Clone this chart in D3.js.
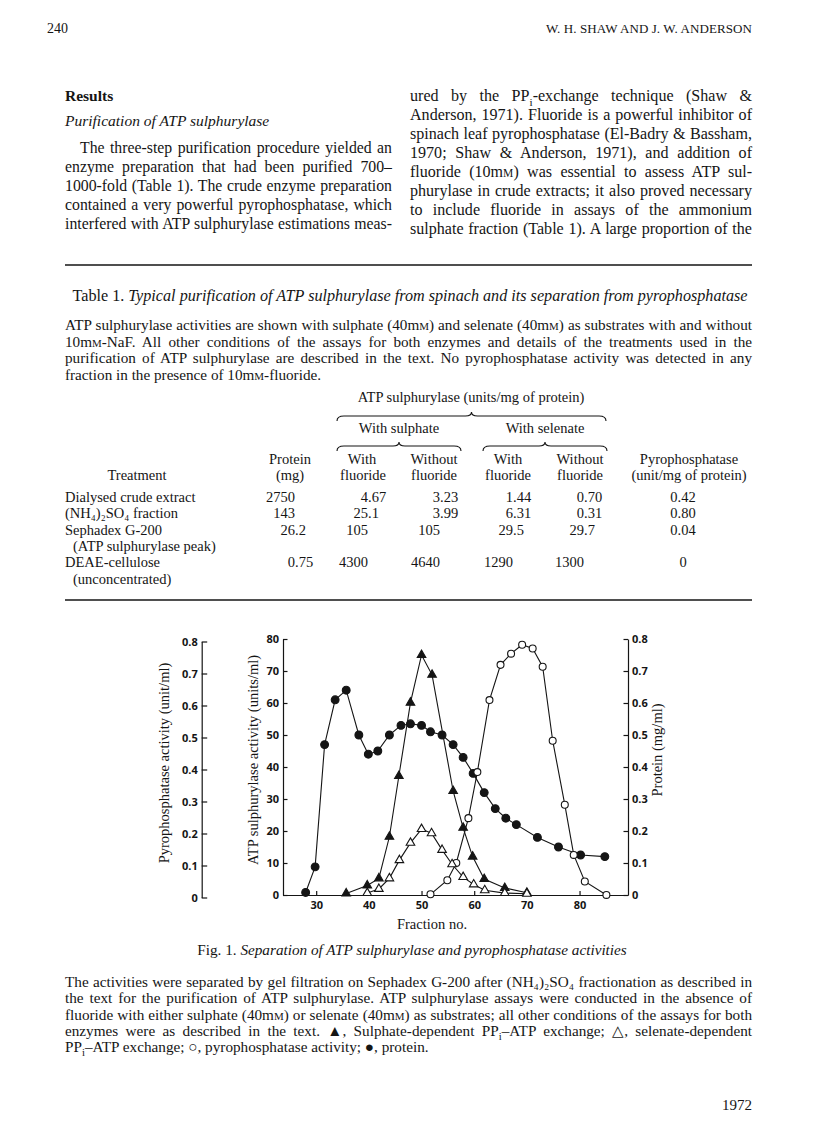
<!DOCTYPE html>
<html>
<head>
<meta charset="utf-8">
<script src="https://cdn.jsdelivr.net/npm/d3@7"></script>
<style>
  body { margin: 0; background: #fff; }
  svg text { font-family: "Liberation Serif", "Times New Roman", serif; fill: #151515; }
  .axis text { font-family: "Open Sans", "DejaVu Sans", sans-serif; font-weight: 700; font-size: 11px; fill: #151515; }
  .axis path, .axis line { stroke: #151515; stroke-width: 1.2; }
</style>
</head>
<body>
<div id="page"></div>
<script>
// ---- chart data ----
var fractionTicks = [30, 40, 50, 60, 70, 80];
var atpTicks = [0, 10, 20, 30, 40, 50, 60, 70, 80];
var mlTicks = [0, 0.1, 0.2, 0.3, 0.4, 0.5, 0.6, 0.7, 0.8];

// protein (mg/ml), filled circles
var proteinFraction = [28, 29.8, 31.6, 33.6, 35.7, 38.1, 39.9, 41.7, 43.9, 46.1, 47.9, 50, 51.7, 53.9, 56, 57.9, 59.8, 61.9, 64, 66, 68, 72, 76, 80.2, 84.8];
var proteinValue = [0.008, 0.088, 0.47, 0.61, 0.64, 0.50, 0.44, 0.45, 0.50, 0.53, 0.535, 0.53, 0.51, 0.50, 0.47, 0.43, 0.38, 0.32, 0.27, 0.24, 0.22, 0.18, 0.15, 0.125, 0.12];

// sulphate-dependent exchange (units/ml), filled triangles
var sulphateFraction = [35.7, 39.7, 41.9, 43.9, 45.7, 47.9, 50, 52, 56, 57.9, 59.7, 61.9, 65.8, 70];
var sulphateValue = [0.5, 3, 5.2, 18.2, 37.2, 60.1, 75, 68.8, 32.5, 21, 12, 5, 2.2, 0.7];

// selenate-dependent exchange (units/ml), open triangles
var selenateFraction = [39.7, 41.9, 43.9, 45.8, 47.9, 50, 51.9, 53.9, 55.8, 57.9, 59.9, 62, 65.8, 70];
var selenateValue = [0.6, 1.9, 5.2, 10.9, 16.3, 20.6, 19.3, 14.1, 9.6, 5.6, 3.3, 1.5, 0.6, 0.4];

// pyrophosphatase (unit/ml), open circles
var pyroFraction = [51.7, 54.9, 56.6, 58.9, 60.6, 62.9, 65, 67, 69.1, 71.1, 73, 74.9, 77.2, 78.9, 81, 85.1];
var pyroValue = [0.01, 0.054, 0.108, 0.248, 0.392, 0.617, 0.727, 0.762, 0.79, 0.778, 0.721, 0.49, 0.29, 0.133, 0.05, 0.008];

// ---- table data ----
var treatments = [["Dialysed crude extract"], ["(NH₄)₂SO₄ fraction"], ["Sephadex G-200", "(ATP sulphurylase peak)"], ["DEAE-cellulose", "(unconcentrated)"]];
var proteinMg = ["2750", "143", "26.2", "0.75"];
var sulphateWithF = ["4.67", "25.1", "105", "4300"];
var sulphateWithoutF = ["3.23", "3.99", "105", "4640"];
var selenateWithF = ["1.44", "6.31", "29.5", "1290"];
var selenateWithoutF = ["0.70", "0.31", "29.7", "1300"];
var pyroPerMg = ["0.42", "0.80", "0.04", "0"];

// ---- page text ({} subscript, [] small capital, ** italic) ----
var leftLines = [
  "The three-step purification procedure yielded an",
  "enzyme preparation that had been purified 700–",
  "1000-fold (Table 1). The crude enzyme preparation",
  "contained a very powerful pyrophosphatase, which",
  "interfered with ATP sulphurylase estimations meas-"
];
var rightLines = [
  "ured by the PP{i}-exchange technique (Shaw &",
  "Anderson, 1971). Fluoride is a powerful inhibitor of",
  "spinach leaf pyrophosphatase (El-Badry & Bassham,",
  "1970; Shaw & Anderson, 1971), and addition of",
  "fluoride (10m[M]) was essential to assess ATP sul-",
  "phurylase in crude extracts; it also proved necessary",
  "to include fluoride in assays of the ammonium",
  "sulphate fraction (Table 1). A large proportion of the"
];
var tableNote = [
  "ATP sulphurylase activities are shown with sulphate (40m[M]) and selenate (40m[M]) as substrates with and without",
  "10m[M]-NaF. All other conditions of the assays for both enzymes and details of the treatments used in the",
  "purification of ATP sulphurylase are described in the text. No pyrophosphatase activity was detected in any",
  "fraction in the presence of 10m[M]-fluoride."
];
var figNote = [
  "The activities were separated by gel filtration on Sephadex G-200 after (NH₄)₂SO₄ fractionation as described in",
  "the text for the purification of ATP sulphurylase. ATP sulphurylase assays were conducted in the absence of",
  "fluoride with either sulphate (40m[M]) or selenate (40m[M]) as substrates; all other conditions of the assays for both",
  "enzymes were as described in the text. ▲, Sulphate-dependent PP{i}–ATP exchange; △, selenate-dependent",
  "PP{i}–ATP exchange; ○, pyrophosphatase activity; ●, protein."
];

var W = 816, H = 1136;
var svg = d3.select("#page").append("svg").attr("width", W).attr("height", H);

// writes marked-up text into a <text> element
function rich(t, str, size) {
  var re = /\{([^}]*)\}|\[([^\]]*)\]|\*([^*]*)\*|([^{\[*]+)/g, m, down = false, off = size * 0.28;
  while ((m = re.exec(str))) {
    var s = t.append("tspan");
    if (m[1] != null) {
      s.text(m[1]).attr("font-size", size * 0.7);
      if (!down) { s.attr("dy", off); down = true; }
      continue;
    }
    if (down) { s.attr("dy", -off); down = false; }
    if (m[2] != null) s.text(m[2]).attr("font-size", size * 0.72);
    else if (m[3] != null) s.text(m[3]).attr("font-style", "italic");
    else s.text(m[4]);
  }
  return t;
}

function measure(str, size) {
  var t = rich(svg.append("text").attr("font-size", size), str, size);
  var w = t.node().getComputedTextLength();
  t.remove();
  return w;
}

// one line; if a width is given, the word gaps are stretched to fill it
function line(str, x, y, size, width, anchor) {
  var t = svg.append("text").attr("x", x).attr("y", y).attr("font-size", size);
  if (anchor) t.attr("text-anchor", anchor);
  rich(t, str, size);
  if (width) {
    var nat = t.node().getComputedTextLength();
    var gaps = (str.match(/ /g) || []).length;
    if (gaps) t.attr("word-spacing", (width - nat) / gaps);
  }
  return t;
}

// largest size (up to maxSize) at which every justified line fits its width
function paragraph(lines, x, y0, lh, width, maxSize, raggedLast, indent) {
  var ratio = Infinity;
  lines.forEach(function(s, i) {
    if (raggedLast && i === lines.length - 1) return;
    var avail = width - (i === 0 && indent ? indent : 0);
    ratio = Math.min(ratio, avail / measure(s, 10));
  });
  var size = Math.min(maxSize, 10 * ratio * 0.995);
  lines.forEach(function(s, i) {
    var ind = (i === 0 && indent) ? indent : 0;
    var last = raggedLast && i === lines.length - 1;
    line(s, x + ind, y0 + i * lh, size, last ? null : width - ind);
  });
}

function fitted(str, cx, y, width) {
  var size = 10 * width / measure(str, 10);
  return line(str, cx, y, size, null, "middle");
}

// ---- running head and body text ----
line("240", 47, 33, 14);
var head = svg.append("text").attr("x", 752).attr("y", 33).attr("font-size", 13)
  .attr("text-anchor", "end").text("W. H. SHAW AND J. W. ANDERSON");
head.attr("letter-spacing", (206 - head.node().getComputedTextLength()) / 28);

svg.append("text").attr("x", 65).attr("y", 101).attr("font-size", 15.5).attr("font-weight", "bold").text("Results");
svg.append("text").attr("x", 65).attr("y", 126).attr("font-size", 15.5).attr("font-style", "italic").text("Purification of ATP sulphurylase");
paragraph(leftLines, 65, 153, 19, 327, 16.5, false, 15);
paragraph(rightLines, 410, 101, 19, 342, 16.5, false, 0);

function rule(y) {
  svg.append("line").attr("x1", 65).attr("x2", 752).attr("y1", y).attr("y2", y)
    .attr("stroke", "#151515").attr("stroke-width", 1.4);
}
rule(265);

// ---- table 1 ----
fitted("Table 1. *Typical purification of ATP sulphurylase from spinach and its separation from pyrophosphatase*", 410, 301, 676);
paragraph(tableNote, 65, 330, 16.5, 687, 15.5, true, 0);

var ts = 14.5;
function centered(str, x, y) { return line(str, x, y, ts, null, "middle"); }
function brace(x1, x2, y) {
  var m = (x1 + x2) / 2;
  svg.append("path").attr("fill", "none").attr("stroke", "#151515").attr("stroke-width", 1.1)
    .attr("d", "M" + x1 + "," + (y + 5) + "Q" + x1 + "," + y + " " + (x1 + 7) + "," + y +
      "L" + (m - 6) + "," + y + "Q" + m + "," + y + " " + m + "," + (y - 4) +
      "Q" + m + "," + y + " " + (m + 6) + "," + y +
      "L" + (x2 - 7) + "," + y + "Q" + x2 + "," + y + " " + x2 + "," + (y + 5));
}

var col = { treat: 137, prot: 295, sw: 368, swo: 440, ew: 513, ewo: 584, pyro: 689 };
centered("ATP sulphurylase (units/mg of protein)", 471, 402);
brace(337, 606, 416);
centered("With sulphate", 399, 433);
centered("With selenate", 545, 433);
brace(337, 461, 446);
brace(483, 607, 446);
centered("Protein", 290, 464);
centered("With", 362, 464);
centered("Without", 434, 464);
centered("With", 508, 464);
centered("Without", 580, 464);
centered("Pyrophosphatase", col.pyro, 464);
centered("Treatment", col.treat, 480);
centered("(mg)", 290, 480);
centered("fluoride", 363, 480);
centered("fluoride", 434, 480);
centered("fluoride", 508, 480);
centered("fluoride", 580, 480);
centered("(unit/mg of protein)", col.pyro, 480);

function decimal(str, x, y) {
  var p = str.split(".");
  svg.append("text").attr("x", x).attr("y", y).attr("font-size", ts).attr("text-anchor", "end").text(p[0]);
  if (p.length > 1) svg.append("text").attr("x", x).attr("y", y).attr("font-size", ts).text("." + p[1]);
}

var rowY = 502, rowH = 16.3;
treatments.forEach(function(tr, i) {
  var y = rowY;
  tr.forEach(function(s, j) { line(s, 65 + (j ? 8 : 0), rowY + j * rowH, ts); });
  decimal(proteinMg[i], col.prot, y);
  decimal(sulphateWithF[i], col.sw, y);
  decimal(sulphateWithoutF[i], col.swo, y);
  decimal(selenateWithF[i], col.ew, y);
  decimal(selenateWithoutF[i], col.ewo, y);
  centered(pyroPerMg[i], 683, y);
  rowY += tr.length * rowH;
});

rule(600);

// ---- figure 1 ----
var x = d3.scaleLinear().domain([23.7, 89.2]).range([283, 628]);
var yAtp = d3.scaleLinear().domain([0, 80]).range([895, 639]);
var yProt = d3.scaleLinear().domain([0, 0.8]).range([895, 639]);
var yPyro = d3.scaleLinear().domain([0, 0.8]).range([897.5, 641.5]);
var fmt = function(d) { return d === 0 ? "0" : d.toFixed(1); };

svg.append("g").attr("class", "axis").attr("transform", "translate(201.7,0)")
  .call(d3.axisLeft(yPyro).tickValues(mlTicks).tickFormat(fmt).tickSizeInner(-5.5).tickSizeOuter(0).tickPadding(4));
svg.append("g").attr("class", "axis").attr("transform", "translate(283,0)")
  .call(d3.axisLeft(yAtp).tickValues(atpTicks).tickSizeInner(-4.5).tickSizeOuter(0).tickPadding(4));
svg.append("g").attr("class", "axis").attr("transform", "translate(628,0)")
  .call(d3.axisRight(yProt).tickValues(mlTicks).tickFormat(fmt).tickSizeInner(-4.5).tickSizeOuter(0).tickPadding(4));
svg.append("g").attr("class", "axis").attr("transform", "translate(0,895)")
  .call(d3.axisBottom(x).tickValues(fractionTicks).tickSizeInner(-4).tickSizeOuter(0).tickPadding(6));
svg.selectAll(".axis .domain").attr("stroke-width", 1.3);

function vtitle(str, cx, cy) {
  svg.append("text").attr("transform", "translate(" + cx + "," + cy + ") rotate(-90)")
    .attr("text-anchor", "middle").attr("font-size", 14.5).text(str);
}
vtitle("Pyrophosphatase activity (unit/ml)", 169, 763);
vtitle("ATP sulphurylase activity (units/ml)", 258, 760);
vtitle("Protein (mg/ml)", 662, 750);
svg.append("text").attr("x", 432).attr("y", 929).attr("text-anchor", "middle").attr("font-size", 14.5).text("Fraction no.");

var plot = svg.append("g");
function series(fr, vals, ys) {
  var pts = fr.map(function(f, i) { return [x(f), ys(vals[i])]; });
  plot.append("path").attr("d", d3.line()(pts)).attr("fill", "none")
    .attr("stroke", "#151515").attr("stroke-width", 1.1);
  return pts;
}
var sets = [
  [proteinFraction, proteinValue, yProt, d3.symbolCircle, true, 48],
  [pyroFraction, pyroValue, yPyro, d3.symbolCircle, false, 38],
  [sulphateFraction, sulphateValue, yAtp, d3.symbolTriangle, true, 32],
  [selenateFraction, selenateValue, yAtp, d3.symbolTriangle, false, 32]
];
var allPts = sets.map(function(s) { return series(s[0], s[1], s[2]); });
sets.forEach(function(s, k) {
  var sym = d3.symbol().type(s[3]).size(s[5]);
  plot.selectAll(null).data(allPts[k]).enter().append("path")
    .attr("transform", function(p) { return "translate(" + p[0] + "," + p[1] + ")"; })
    .attr("d", sym)
    .attr("fill", s[4] ? "#151515" : "#fff")
    .attr("stroke", "#151515").attr("stroke-width", 1.1);
});

// ---- figure caption ----
fitted("Fig. 1. *Separation of ATP sulphurylase and pyrophosphatase activities*", 412, 955, 430);
paragraph(figNote, 65, 987, 16.3, 687, 15.5, true, 0);
svg.append("text").attr("x", 752).attr("y", 1110).attr("text-anchor", "end").attr("font-size", 15).text("1972");
</script>
</body>
</html>
